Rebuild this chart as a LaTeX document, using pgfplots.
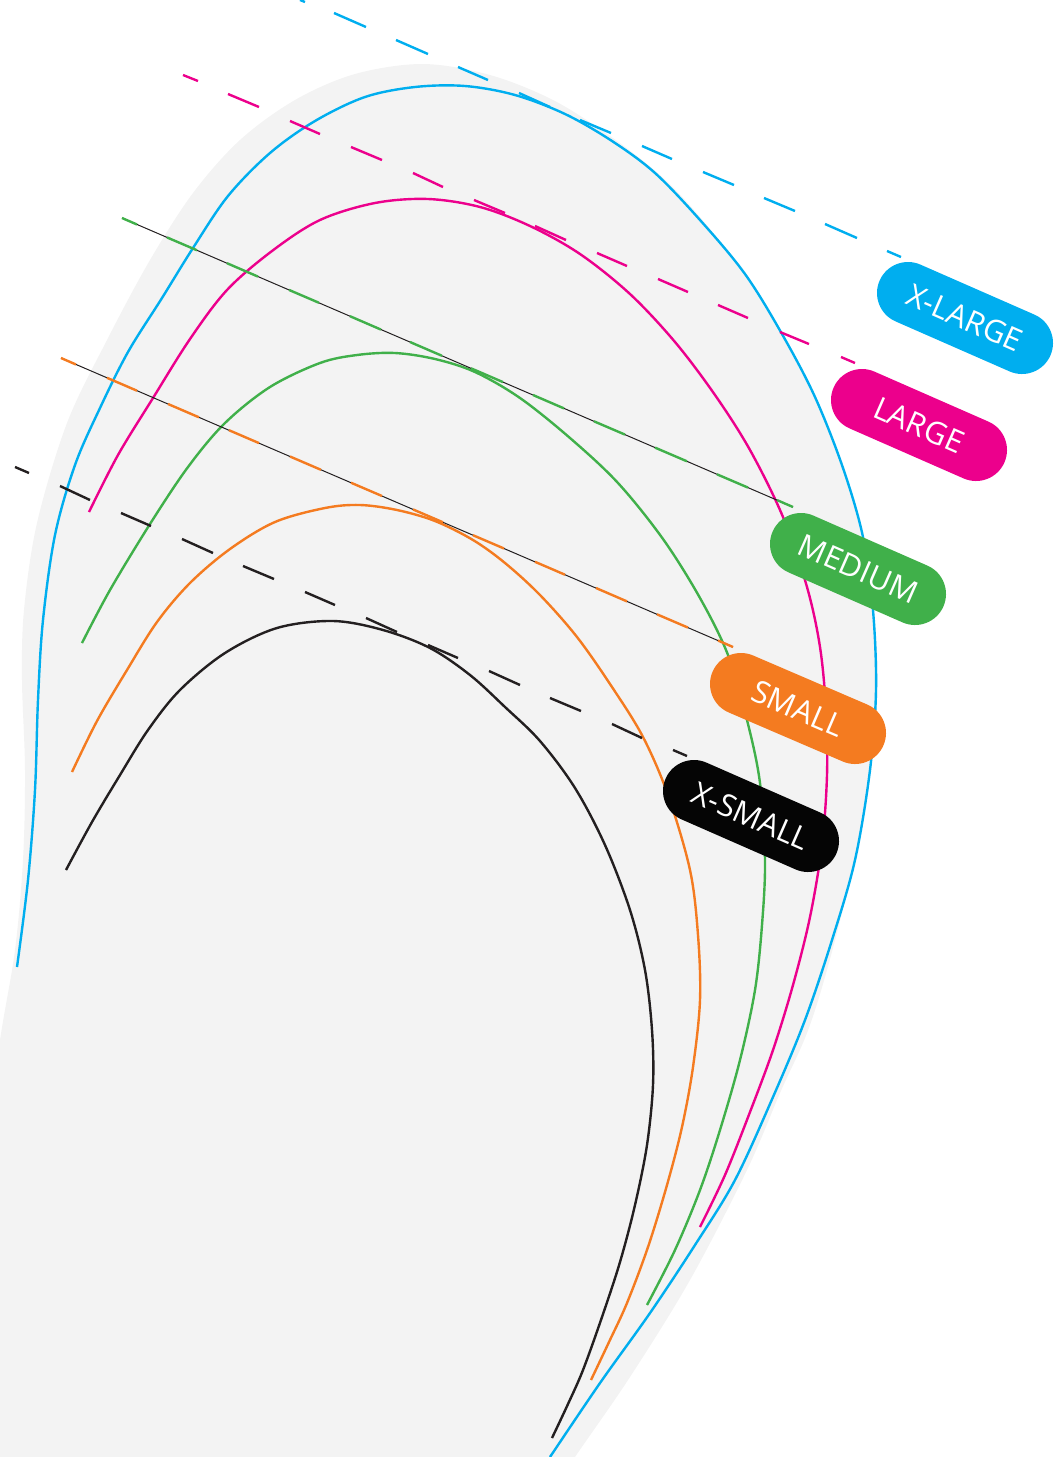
\documentclass[border=0pt]{standalone}
\usepackage{pgfplots}
\pgfplotsset{compat=1.18}
\usepackage{fontspec}
\setmainfont{Open Sans}
\definecolor{sizexl}{HTML}{00AEEF}
\definecolor{sizel}{HTML}{EC008C}
\definecolor{sizem}{HTML}{40B04A}
\definecolor{sizes}{HTML}{F47B20}
\definecolor{sizexs}{HTML}{050505}
\definecolor{curveblack}{HTML}{231F20}
\definecolor{bgshape}{HTML}{F3F3F3}
\pgfplotsset{
  sizecurve/.style={smooth, tension=0.55, line width=1.2pt, line join=round},
  tangent/.style={line width=1.2pt, unbounded coords=jump},
  pill/.style={line width=31pt, line cap=round},
}
\newcommand{\pilltext}[1]{node[midway, sloped, text=white, font=\fontsize{15.5}{17}\selectfont, inner sep=0pt] {#1}}
\begin{document}
\begin{tikzpicture}
\begin{axis}[
  name=ax, hide axis, scale only axis,
  width=530.5pt, height=728.5pt,
  xmin=0, xmax=1061, ymin=0, ymax=1457, y dir=reverse,
]
% background shape
\addplot[fill=bgshape, draw=none, smooth, tension=0.55] coordinates {
  (-40,1300) (-20,1180) (0,1040) (15,950) (23,860) (25,770) (22,680) (24,610) (37,523) (67,423) (107,340)
  (150,260) (193,193) (240,140) (295,100) (355,74) (423,64) (490,75) (553,100) (610,136) (660,175)
  (700,217) (750,281) (790,350) (825,420) (850,490) (868,570) (877,650) (876,720) (866,800)
  (850,880) (827,970) (807,1033) (780,1093) (747,1170) (690,1280) (630,1377) (575,1457) (540,1510)
  (300,1520) (-40,1500) (-40,1300)
};
% size curves
\addplot[sizecurve, color=sizexl] coordinates {
  (17,967) (28,880) (35,790) (38,700) (43,620) (55,535) (75,465) (100,408) (128,352) (162,298)
  (193,248) (228,196) (270,153) (315,121) (365,97) (415,87) (465,86) (515,95) (565,114) (612,141)
  (655,173) (700,220) (745,274) (782,334) (815,397) (843,468) (863,537) (873,610) (876,690)
  (870,770) (855,860) (832,940) (805,1020) (773,1097) (735,1180) (695,1245) (650,1313)
  (600,1383) (550,1457)
};
\addplot[sizecurve, color=sizel] coordinates {
  (89,512) (118,455) (153,398) (190,339) (227,290) (272,251) (320,220) (375,203) (428,199)
  (480,207) (530,226) (580,254) (630,294) (675,342) (715,395) (750,450) (783,517) (807,587)
  (820,647) (826,710) (827,775) (822,845) (810,917) (793,985) (773,1050) (750,1112) (725,1175)
  (700,1227)
};
\addplot[sizecurve, color=sizem] coordinates {
  (82,643) (110,590) (150,524) (188,467) (225,423) (270,387) (320,363) (357,355) (395,353)
  (435,359) (475,372) (520,398) (570,438) (618,483) (663,539) (700,598) (728,655) (747,720)
  (760,783) (765,860) (762,925) (755,990) (740,1060) (720,1130) (700,1190) (675,1250) (647,1305)
};
\addplot[sizecurve, color=sizes] coordinates {
  (72,772) (97,721) (127,670) (157,622) (190,583) (230,549) (275,522) (325,508) (360,505)
  (397,510) (435,521) (473,540) (505,563) (540,595) (577,637) (612,687) (643,737) (668,795)
  (690,870) (698,935) (700,1000) (693,1067) (682,1127) (667,1185) (648,1247) (627,1303)
  (609,1342) (591,1380)
};
\addplot[sizecurve, color=curveblack] coordinates {
  (66,870) (92,822) (120,775) (148,730) (180,690) (225,653) (277,628) (333,621) (383,630)
  (430,648) (470,675) (505,707) (540,741) (575,788) (605,845) (630,910) (645,970) (652,1030)
  (653,1085) (647,1145) (635,1205) (620,1262) (602,1317) (583,1370) (568,1404) (552,1438)
};
% thin leader lines
\addplot[line width=0.5pt, color=curveblack] coordinates {(122,218) (793,507)};
\addplot[line width=0.5pt, color=curveblack] coordinates {(61,358) (733,647)};
% dashed tangents
\addplot[tangent, color=sizexl] coordinates {
  (300,0) (305,2) (305,nan) (334,13) (366,27) (366,nan) (396,40) (428,54) (428,nan)
  (458,67) (488,80) (488,nan) (519,93) (550,107) (550,nan) (580,120) (611,133) (611,nan)
  (642,146) (672,159) (672,nan) (703,172) (734,185) (734,nan) (764,198) (795,211) (795,nan)
  (825,224) (857,238) (857,nan) (887,251) (901,257)
};
\addplot[tangent, color=sizel] coordinates {
  (183,75) (198,81) (198,nan) (228,94) (259,107) (259,nan) (290,121) (320,134) (320,nan)
  (351,147) (382,160) (382,nan) (413,173) (443,187) (443,nan) (474,200) (505,213) (505,nan)
  (535,226) (566,240) (566,nan) (597,253) (627,266) (627,nan) (658,279) (688,292) (688,nan)
  (718,305) (748,318) (748,nan) (780,332) (809,344) (809,nan) (841,357) (855,363)
};
\addplot[tangent, color=sizem] coordinates {
  (122,218) (137,224.5) (137,nan) (167,237.4) (197,250.3) (197,nan) (227,263.2) (258,276.6) (258,nan)
  (289,289.9) (319,302.8) (319,nan) (350,316.2) (381,329.6) (381,nan) (410,342) (442,355.8) (442,nan)
  (471,368.3) (503,382.1) (503,nan) (533,395) (564,408.4) (564,nan) (594,421.3) (625,434.6) (625,nan)
  (655,447.6) (687,461.3) (687,nan) (717,474.3) (748,487.6) (748,nan) (777,500.1) (793,507)
};
\addplot[tangent, color=sizes] coordinates {
  (61,358) (76,364.5) (76,nan) (107,377.8) (137,390.7) (137,nan) (168,404) (199,417.3) (199,nan)
  (229,430.2) (259,443.1) (259,nan) (290,456.5) (321,469.8) (321,nan) (351,482.7) (382,496) (382,nan)
  (413,509.4) (443,522.3) (443,nan) (473,535.2) (504,548.5) (504,nan) (535,561.8) (565,574.7) (565,nan)
  (596,588) (627,601.4) (627,nan) (657,614.3) (688,627.6) (688,nan) (718,640.5) (733,647)
};
\addplot[tangent, color=curveblack] coordinates {
  (15,467) (29,473) (29,nan) (60,486) (90,500) (90,nan) (121,513) (151,526) (151,nan)
  (182,539) (213,553) (213,nan) (243,566) (274,579) (274,nan) (305,592) (335,605) (335,nan)
  (366,618) (397,632) (397,nan) (428,645) (458,658) (458,nan) (489,671) (520,685) (520,nan)
  (550,698) (581,711) (581,nan) (612,724) (642,738) (642,nan) (673,750) (687,756)
};
% size labels
\addplot[pill, color=sizexl] coordinates {(908,293) (1022,343)} \pilltext{X-LARGE};
\addplot[pill, color=sizel] coordinates {(862,400) (976,450)} \pilltext{LARGE};
\addplot[pill, color=sizem] coordinates {(801,544) (915,594)} \pilltext{MEDIUM};
\addplot[pill, color=sizes] coordinates {(741,684) (855,733)} \pilltext{SMALL};
\addplot[pill, color=sizexs] coordinates {(694,791) (808,841)} \pilltext{X-SMALL};
\end{axis}
\pgfresetboundingbox
\path (ax.south west) rectangle (ax.north east);
\end{tikzpicture}
\end{document}
